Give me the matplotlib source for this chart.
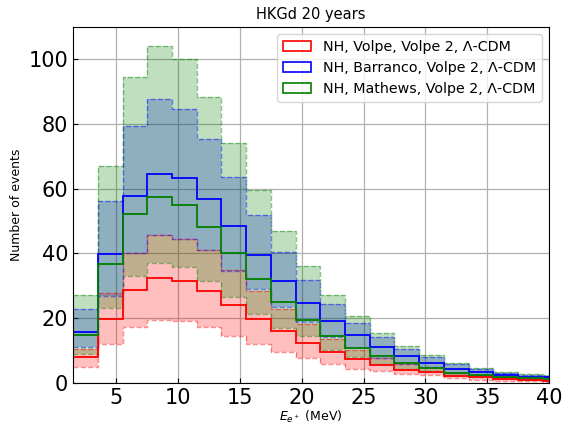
import numpy as np
import matplotlib
matplotlib.use("Agg")
import matplotlib.pyplot as plt
from matplotlib.patches import Patch

# bin edges in positron energy (MeV)
edges = np.arange(1.5, 41.6, 2.0)

# NH, Volpe
volpe = [8.0, 19.8, 28.7, 32.3, 31.6, 28.5, 24.2, 19.8, 15.9, 12.4,
         9.5, 7.3, 5.4, 4.1, 3.4, 2.2, 1.7, 1.1, 0.8, 0.7]
volpe_hi = [10.4, 27.8, 40.1, 45.7, 44.4, 41.0, 35.0, 28.5, 22.7, 18.3,
            13.7, 10.3, 7.8, 5.9, 4.8, 3.2, 2.5, 1.7, 1.2, 1.0]
volpe_lo = [4.9, 11.9, 17.4, 19.6, 19.1, 17.2, 14.5, 11.9, 9.5, 7.8,
            5.8, 4.4, 3.6, 2.9, 2.4, 1.4, 0.8, 0.6, 0.5, 0.4]

# NH, Barranco
barranco = [15.6, 39.8, 57.8, 64.6, 63.4, 56.7, 48.5, 39.6, 31.6, 24.8,
            19.1, 14.7, 11.1, 8.3, 6.3, 4.4, 3.4, 2.6, 1.9, 1.7]
barranco_hi = [22.7, 56.2, 79.5, 87.8, 84.7, 75.4, 63.6, 51.9, 40.6, 31.8,
               24.4, 18.6, 14.2, 10.4, 8.0, 5.8, 4.4, 3.1, 2.4, 2.2]
barranco_lo = [11.1, 27.0, 40.1, 45.7, 44.4, 41.0, 34.7, 29.0, 23.6, 18.8,
               14.2, 10.8, 7.8, 5.9, 4.8, 3.2, 2.5, 1.7, 1.2, 1.0]

# NH, Mathews
mathews = [14.7, 36.7, 52.1, 57.4, 55.0, 48.2, 40.1, 32.0, 25.1, 19.6,
           14.5, 10.9, 8.3, 6.2, 4.6, 3.2, 2.5, 1.9, 1.4, 1.2]
mathews_hi = [27.1, 67.0, 94.4, 104.1, 100.0, 88.3, 74.0, 59.6, 46.8, 36.0,
              27.3, 20.6, 15.4, 11.4, 8.5, 6.2, 4.7, 3.4, 2.7, 2.4]
mathews_lo = [8.8, 23.2, 33.1, 37.2, 35.7, 31.6, 26.5, 21.4, 17.0, 14.4,
              10.3, 8.0, 6.0, 4.4, 3.6, 2.4, 1.9, 1.4, 1.0, 0.9]

labels = ["NH, Volpe, Volpe 2, Λ-CDM",
          "NH, Barranco, Volpe 2, Λ-CDM",
          "NH, Mathews, Volpe 2, Λ-CDM"]
colors = ["red", "blue", "green"]
models = [(volpe, volpe_lo, volpe_hi),
          (barranco, barranco_lo, barranco_hi),
          (mathews, mathews_lo, mathews_hi)]

fig = plt.figure(figsize=(5.63, 4.26), dpi=100)
ax = fig.add_axes([0.130, 0.101, 0.845, 0.836])

# bands first (green drawn last, on top)
for (mid, lo, hi), c in zip(models, colors):
    ax.stairs(hi, edges, baseline=lo, fill=True, color=c, alpha=0.25, lw=0)
for (mid, lo, hi), c in zip(models, colors):
    ax.stairs(hi, edges, color=c, ls="--", lw=1.0, alpha=0.45, baseline=None)
    ax.stairs(lo, edges, color=c, ls="--", lw=1.0, alpha=0.45, baseline=None)
for (mid, lo, hi), c in zip(models, colors):
    ax.stairs(mid, edges, color=c, lw=1.3, baseline=None)

ax.set_xlim(1.5, 40)
ax.set_ylim(0, 110)
ax.grid(True, color="#b0b0b0", lw=0.9)
ax.set_axisbelow(True)
ax.tick_params(direction="in", labelsize=15)
ax.set_xticks([5, 10, 15, 20, 25, 30, 35, 40])
ax.set_yticks([0, 20, 40, 60, 80, 100])

ax.set_title("HKGd 20 years", fontsize=10.5)
ax.set_xlabel("$E_{e^+}$ (MeV)", fontsize=9, labelpad=1)
ax.set_ylabel("Number of events", fontsize=9)

handles = [Patch(facecolor="none", edgecolor=c, lw=1.2) for c in colors]
ax.legend(handles, labels, loc="upper right", fontsize=10.3)

fig.savefig("out.png", dpi=100)
